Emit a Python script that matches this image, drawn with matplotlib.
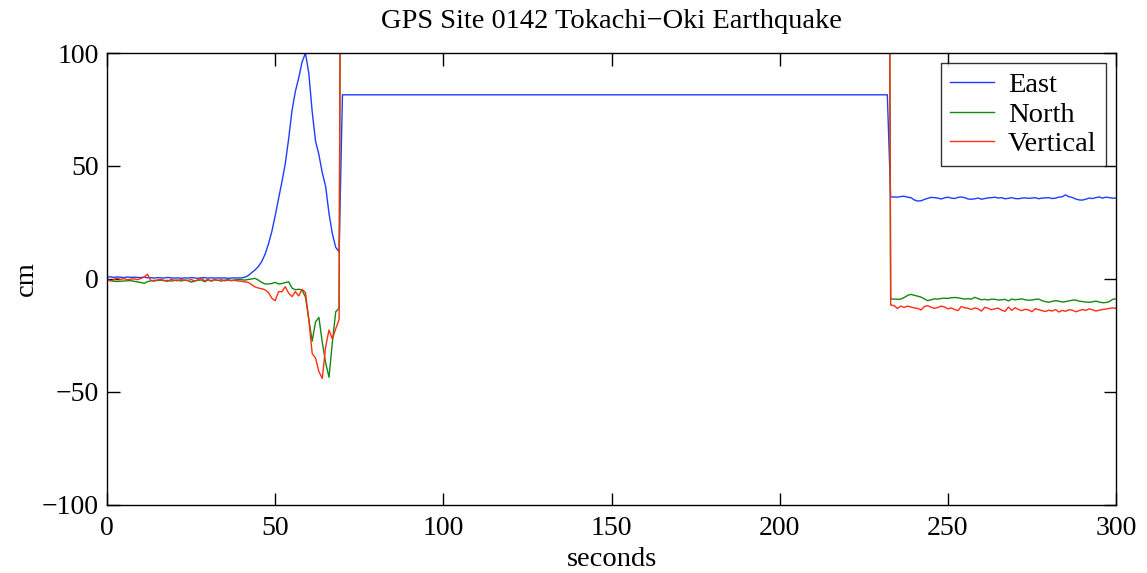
import numpy as np
import matplotlib.pyplot as plt

plt.rcParams['font.family'] = ['Liberation Serif', 'DejaVu Serif']

# 1 Hz GPS displacement record (cm), split into the pre-event part (t=0..69),
# the saturated stretch (t=70..232) and the post-event part (t=233..300)
t_pre = np.arange(0, 70)
t_gap = np.arange(70, 233)
t_post = np.arange(233, 301)

east_pre = [0.8, 1.0, 0.7, 0.9, 0.8, 0.6, 0.9, 0.7, 0.8, 0.7,
            0.6, 0.9, 0.5, 0.6, 0.4, 0.6, 0.5, 0.4, 0.7, 0.5,
            0.4, 0.5, 0.3, 0.5, 0.4, 0.6, 0.5, 0.3, 0.5, 0.6,
            0.4, 0.5, 0.4, 0.5, 0.4, 0.5, 0.3, 0.4, 0.5, 0.4,
            0.5, 0.8, 1.5, 2.8, 4.0, 5.5, 7.7, 11.0, 15.5, 21.0,
            28.0, 35.5, 43.0, 51.0, 62.0, 74.5, 83.0, 89.0, 96.0, 100.0,
            91.0, 74.0, 61.0, 55.0, 47.0, 41.0, 29.0, 20.0, 14.0, 12.0]
north_pre = [-0.3, -0.6, -1.0, -1.1, -1.0, -0.9, -0.8, -0.7, -1.0, -1.3,
             -1.5, -1.9, -1.2, -0.8, -0.6, -0.7, -0.5, -0.8, -0.6, -0.9,
             -0.7, -0.4, -0.9, -0.5, -0.6, -1.4, -0.9, -0.6, -0.4, -1.2,
             -0.5, -0.7, -0.3, -0.6, -0.9, -0.5, -0.3, -0.7, -0.4, -0.3,
             -0.3, -0.5, -0.2, 0.0, 0.3, -0.5, -1.5, -2.2, -2.2, -2.0,
             -1.5, -2.2, -2.0, -1.6, -1.2, -4.0, -4.8, -4.5, -4.9, -8.0,
             -18.0, -27.5, -19.0, -17.0, -28.0, -37.0, -43.5, -28.0, -14.5, -13.0]
vert_pre = [-0.4, -0.9, -0.3, 0.3, -0.2, 0.2, -0.4, -0.1, 0.1, -0.3,
            0.2, 0.8, 2.1, -0.6, -1.0, -0.4, -0.2, -0.6, -1.1, -0.2,
            -0.5, -0.8, -0.3, -0.5, -0.7, -0.2, -0.9, -0.4, 0.3, -0.8,
            -0.2, -1.0, -0.4, -0.6, -0.3, -0.8, -0.5, -0.7, -0.6, -0.9,
            -1.0, -1.3, -1.5, -2.5, -3.5, -4.0, -4.3, -4.8, -6.0, -8.5,
            -9.6, -5.6, -5.6, -3.4, -6.3, -7.8, -5.6, -7.5, -4.6, -6.0,
            -18.0, -33.0, -35.0, -41.0, -44.0, -30.0, -22.6, -26.5, -22.0, -18.0]

# saturated values while the receiver lost lock
east_gap = 81.5
north_gap = 400.0
vert_gap = 400.0

east_post = [36.3, 36.3, 36.2, 36.5, 36.6, 36.2, 36.0, 35.0, 34.5, 34.6,
             35.2, 35.7, 36.1, 36.0, 35.8, 35.4, 35.9, 36.2, 35.8, 35.6,
             36.1, 36.3, 36.0, 35.4, 35.3, 35.5, 35.8, 35.3, 35.6, 35.9,
             36.0, 36.2, 35.8, 36.0, 35.5, 35.7, 36.0, 35.6, 35.5, 35.8,
             35.9, 35.7, 35.8, 36.0, 35.5, 35.8, 35.9, 36.0, 35.6, 35.8,
             36.2, 36.4, 37.2, 36.4, 36.1, 35.4, 35.0, 34.9, 35.3, 35.8,
             35.6, 36.0, 36.3, 35.8, 36.2, 36.0, 35.8, 35.8]
north_post = [-8.8, -8.9, -9.0, -8.9, -8.2, -7.3, -6.8, -7.2, -7.6, -8.0,
              -8.8, -9.6, -9.2, -8.8, -8.9, -8.6, -8.5, -8.6, -8.3, -8.2,
              -8.3, -8.6, -8.9, -8.7, -8.9, -8.1, -8.7, -9.2, -9.0, -9.3,
              -8.9, -9.0, -9.3, -9.2, -9.0, -9.7, -8.9, -9.2, -9.0, -8.8,
              -9.2, -9.4, -9.3, -9.0, -8.9, -9.6, -10.0, -10.3, -9.9, -9.6,
              -9.8, -10.2, -10.0, -9.7, -9.4, -9.3, -9.8, -10.0, -10.2, -10.3,
              -10.1, -9.8, -10.2, -10.5, -10.4, -10.0, -9.0, -8.8]
vert_post = [-11.5, -11.8, -13.0, -12.0, -12.6, -12.0, -12.4, -12.8, -13.0, -13.7,
             -12.2, -11.8, -12.5, -13.0, -12.6, -12.0, -12.4, -13.2, -12.8, -13.5,
             -14.0, -12.2, -12.7, -13.0, -13.5, -12.8, -13.2, -14.2, -12.5, -13.0,
             -13.6, -13.2, -12.9, -13.8, -14.3, -12.4, -13.9, -12.7, -13.5, -14.0,
             -13.4, -13.7, -14.5, -13.1, -13.6, -14.0, -14.4, -13.8, -14.2, -13.5,
             -14.6, -13.9, -14.3, -13.6, -13.8, -14.5, -14.0, -13.5, -13.9, -13.2,
             -13.6, -14.2, -13.8, -13.5, -13.3, -13.0, -12.8, -13.0]

t = np.concatenate([t_pre, t_gap, t_post])
east = np.concatenate([east_pre, np.full(len(t_gap), east_gap), east_post])
north = np.concatenate([north_pre, np.full(len(t_gap), north_gap), north_post])
vert = np.concatenate([vert_pre, np.full(len(t_gap), vert_gap), vert_post])

fig = plt.figure(figsize=(11.47, 5.73), dpi=100)
ax = fig.add_axes([0.0933, 0.1187, 0.8797, 0.7888])

ax.plot(t, east, color='#1f3cff', lw=1.0, label='East')
ax.plot(t, north, color='#118a11', lw=1.0, label='North')
ax.plot(t, vert, color='#ff2e10', lw=1.0, label='Vertical')

ax.set_xlim(0, 300)
ax.set_ylim(-100, 100)
ax.set_xticks([0, 50, 100, 150, 200, 250, 300])
ax.set_yticks([-100, -50, 0, 50, 100])
ax.tick_params(direction='in', length=9, width=1, top=True, right=True,
               labelsize=20)
ax.tick_params(axis='x', pad=8)
ax.tick_params(axis='y', pad=6)
for s in ax.spines.values():
    s.set_linewidth(1.0)

ax.set_title('GPS Site 0142 Tokachi\u2212Oki Earthquake', fontsize=20.5, pad=18)
ax.set_xlabel('seconds', fontsize=20.5, labelpad=4)
ax.set_ylabel('cm', fontsize=20.5, labelpad=2)

leg = ax.legend(loc='upper right', fontsize=20.5, frameon=True, fancybox=False,
                edgecolor='black', borderaxespad=0.36, handlelength=1.55,
                handletextpad=0.5, labelspacing=0.12, borderpad=0.32)
leg.get_frame().set_linewidth(1.0)

fig.savefig('out.png', dpi=100)
